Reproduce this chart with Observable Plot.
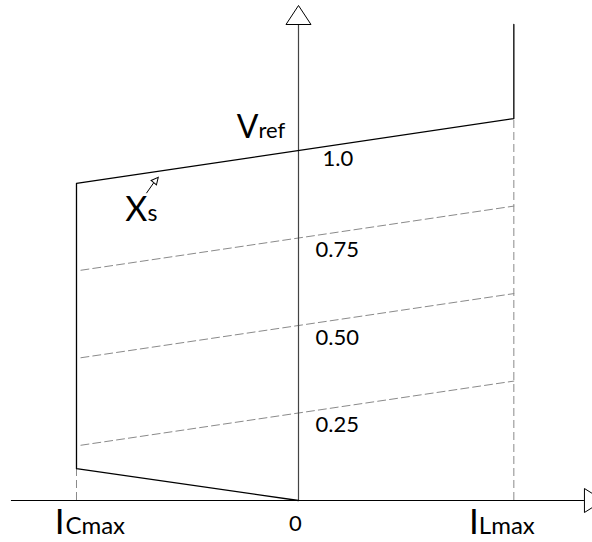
<!DOCTYPE html>
<html>
<head>
<meta charset="utf-8">
<script src="https://cdn.jsdelivr.net/npm/d3@7"></script>
<script src="https://cdn.jsdelivr.net/npm/@observablehq/plot@0.6"></script>
<style>
  html, body { margin: 0; padding: 0; background: #fff; }
  #chart svg { display: block; }
</style>
</head>
<body>
<div id="chart"></div>
<script>
// Current limits (per unit of ICmax): capacitive on the left, inductive on the right
const iCmax = -1.0;
const iLmax = 0.97;
// Reference voltage and slope reactance of the control characteristic
const vref = 1.0;
const xsSlope = 0.094;
// Voltage where the capacitive limit line meets ICmax
const vAtCmax = 0.091;
// Upper end of the inductive limit line
const vTop = 1.36;
// Reduced reference levels (dashed)
const levels = [0.75, 0.50, 0.25];
const levelLabels = ["0.75", "0.50", "0.25"];
const dashStart = -0.98;
// Axis extents
const axisX = [-1.293, 1.288];
const axisY = [0, 1.36];
// Xs annotation arrow (tail, head base)
const xsArrow = [[-0.685, 0.878], [-0.652, 0.908]];

const slope = (v0, i) => v0 + xsSlope * i;

// Solid operating characteristic: inductive limit, slope line, capacitive limit, origin
const characteristic = [
  {i: iLmax, v: vTop},
  {i: iLmax, v: slope(vref, iLmax)},
  {i: iCmax, v: slope(vref, iCmax)},
  {i: iCmax, v: vAtCmax},
  {i: 0, v: 0}
];

const dashedLevels = levels.flatMap(k => [
  {k, i: dashStart, v: slope(k, dashStart)},
  {k, i: iLmax, v: slope(k, iLmax)}
]);

const dashedDrops = [
  {i: iCmax, v1: 0, v2: vAtCmax},
  {i: iLmax, v1: 0, v2: slope(vref, iLmax)}
];

// Hollow triangular arrowhead, base centred on the anchor point, pointing up
function arrowHead(w, h) {
  return {
    draw(ctx) {
      ctx.moveTo(-w / 2, 0);
      ctx.lineTo(0, -h);
      ctx.lineTo(w / 2, 0);
      ctx.closePath();
    }
  };
}

const font = "Lato, 'Open Sans', sans-serif";

const chart = Plot.plot({
  width: 592,
  height: 542,
  margin: 0,
  x: {domain: [-1.3423, 1.3243], axis: null},
  y: {domain: [-0.12, 1.4286], axis: null},
  style: {fontFamily: font, background: "#fff", color: "#000"},
  marks: [
    // dashed drop lines at the current limits
    Plot.ruleX(dashedDrops, {x: "i", y1: "v1", y2: "v2", stroke: "#8a8a8a", strokeWidth: 1, strokeDasharray: "8,4"}),
    // dashed characteristics for lower reference voltages
    Plot.line(dashedLevels, {x: "i", y: "v", z: "k", stroke: "#8a8a8a", strokeWidth: 1, strokeDasharray: "8,4"}),
    // axes
    Plot.ruleY([0], {x1: axisX[0], x2: axisX[1], stroke: "#000", strokeWidth: 1.2}),
    Plot.ruleX([0], {y1: axisY[0], y2: axisY[1], stroke: "#444", strokeWidth: 1.2}),
    Plot.dot([{i: 0, v: axisY[1]}], {x: "i", y: "v", symbol: arrowHead(25, 19), fill: "#fff", stroke: "#000", strokeWidth: 1}),
    Plot.dot([{i: axisX[1], v: 0}], {x: "i", y: "v", symbol: arrowHead(24, 19), rotate: 90, fill: "#fff", stroke: "#000", strokeWidth: 1}),
    // operating characteristic
    Plot.line(characteristic, {x: "i", y: "v", stroke: "#000", strokeWidth: 1.3}),
    // Xs annotation arrow
    Plot.link([xsArrow], {x1: d => d[0][0], y1: d => d[0][1], x2: d => d[1][0], y2: d => d[1][1], stroke: "#000", strokeWidth: 1}),
    Plot.dot([xsArrow], {x: d => d[1][0], y: d => d[1][1], symbol: arrowHead(7, 7), rotate: 40, fill: "#fff", stroke: "#000", strokeWidth: 1}),
    // labels
    Plot.text(["V"], {x: 0, y: vref, text: d => d, dx: -40, dy: -13, textAnchor: "end", lineAnchor: "bottom", fontSize: 32}),
    Plot.text(["ref"], {x: 0, y: vref, text: d => d, dx: -40, dy: -13, textAnchor: "start", lineAnchor: "bottom", fontSize: 22}),
    Plot.text([vref], {x: 0, y: d => d, text: d => d.toFixed(1), dx: 24, dy: 15, textAnchor: "start", lineAnchor: "bottom", fontSize: 22}),
    Plot.text(levels, {x: 0, y: d => d, text: (d, j) => levelLabels[j], dx: 17, dy: 19, textAnchor: "start", lineAnchor: "bottom", fontSize: 22}),
    Plot.text(["X"], {x: xsArrow[0][0], y: xsArrow[0][1], text: d => d, dx: 1, dy: 28, textAnchor: "end", lineAnchor: "bottom", fontSize: 34}),
    Plot.text(["s"], {x: xsArrow[0][0], y: xsArrow[0][1], text: d => d, dx: 1, dy: 28, textAnchor: "start", lineAnchor: "bottom", fontSize: 23}),
    Plot.text(["0"], {x: 0, y: 0, text: d => d, dx: -3, dy: 30, textAnchor: "middle", lineAnchor: "bottom", fontSize: 22}),
    Plot.text(["I"], {x: iCmax, y: 0, text: d => d, dx: -12, dy: 33, textAnchor: "end", lineAnchor: "bottom", fontSize: 35}),
    Plot.text(["Cmax"], {x: iCmax, y: 0, text: d => d, dx: -11, dy: 33, textAnchor: "start", lineAnchor: "bottom", fontSize: 24}),
    Plot.text(["I"], {x: iLmax, y: 0, text: d => d, dx: -35, dy: 33, textAnchor: "end", lineAnchor: "bottom", fontSize: 35}),
    Plot.text(["Lmax"], {x: iLmax, y: 0, text: d => d, dx: -35, dy: 33, textAnchor: "start", lineAnchor: "bottom", fontSize: 24})
  ]
});

document.getElementById("chart").append(chart);
</script>
</body>
</html>
